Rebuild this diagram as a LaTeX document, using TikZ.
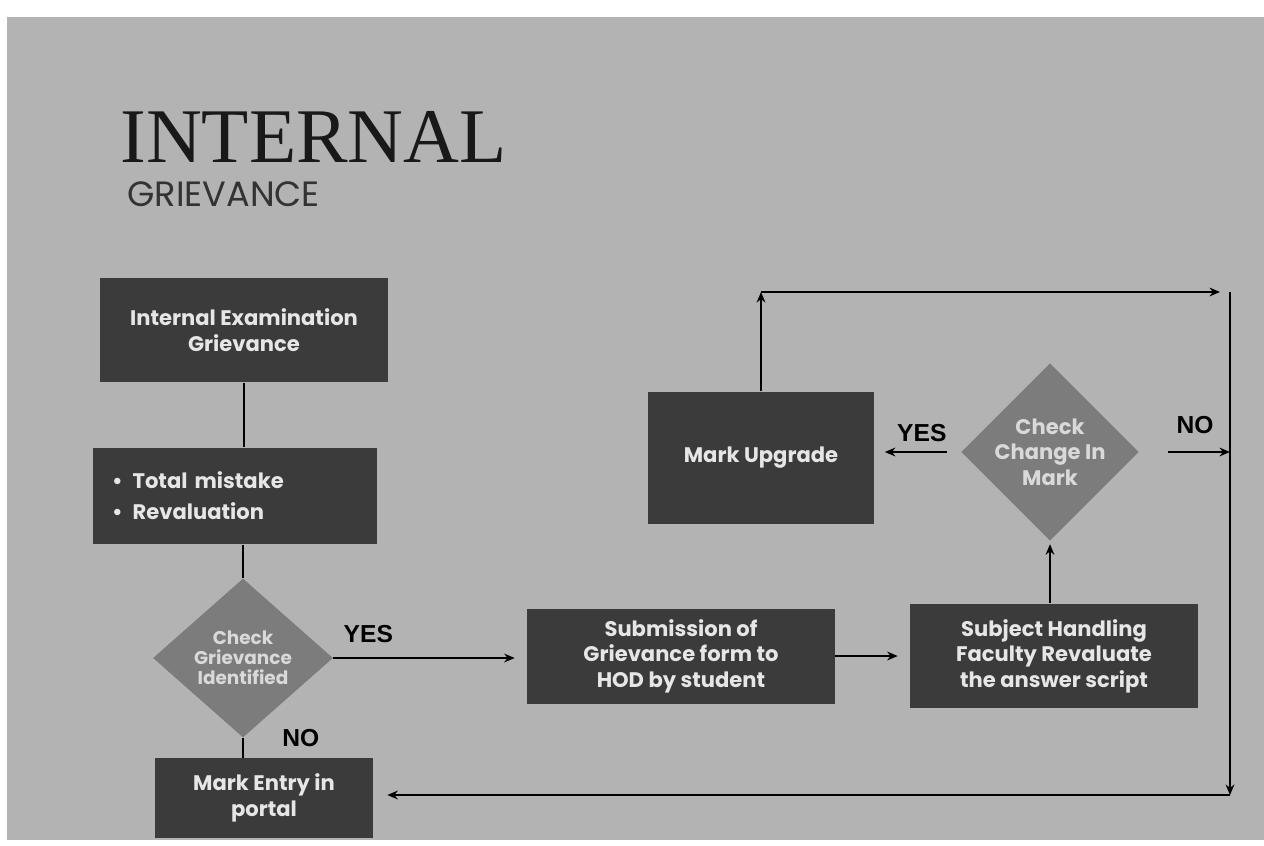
\documentclass[tikz,border=0pt]{standalone}
\usepackage{fontspec}
\usepackage{xcolor}
\usepackage{tikz}
\usetikzlibrary{positioning, arrows.meta, shapes.geometric}
\setmainfont{Liberation Serif}
\newfontfamily\boxfont{Poppins}
\newfontfamily\labelfont{Liberation Sans}
\definecolor{pagegray}{HTML}{B3B3B3}
\definecolor{boxgray}{HTML}{3B3B3B}
\definecolor{diagray}{HTML}{7C7C7C}
\definecolor{boxtext}{HTML}{E6E6E6}
\definecolor{diatext}{HTML}{D9D9D9}

\begin{document}
\begin{tikzpicture}[
    x=0.02cm, y=-0.02cm,
    >=Stealth,
    box/.style={
        rectangle, fill=boxgray, text=boxtext, inner sep=0pt, align=center,
        font=\boxfont\bfseries\fontsize{12}{14.5}\selectfont
    },
    check/.style={
        diamond, fill=diagray, text=diatext, inner sep=0pt, align=center,
        font=\boxfont\bfseries\fontsize{10.5}{11.5}\selectfont
    },
    link/.style={line width=0.9pt},
    arrow/.style={-{Stealth[length=6pt, width=5pt]}, line width=0.9pt},
    yn/.style={inner sep=0pt, font=\labelfont\bfseries\fontsize{14}{16}\selectfont},
]
\useasboundingbox (0,0) rectangle (1264,845);
\fill[pagegray] (7,17) rectangle (1264,840);

% ── Title ────────────────────────────────────────────────────────────────
\node[anchor=base west, inner sep=0pt, text=black!90,
      font=\fontsize{44}{48}\selectfont] (title) at (120,162) {INTERNAL};
\node[anchor=base west, inner sep=0pt, text=black!80,
      font=\boxfont\fontsize{20}{22}\selectfont] (subtitle) at (127,206) {GRIEVANCE};

% ── Left column ──────────────────────────────────────────────────────────
\node[box, minimum width=5.76cm, minimum height=2.1cm] (exam) at (244,330)
    {Internal Examination\\Grievance};
\node[box, minimum width=5.68cm, minimum height=1.94cm, text width=4.92cm,
      inner xsep=0.38cm, align=left, font=\boxfont\bfseries\fontsize{12}{17.5}\selectfont]
    (types) at (235,496) {\textbullet\hspace{0.2cm}Total mistake\\\textbullet\hspace{0.2cm}Revaluation};
\node[check, minimum width=3.6cm, minimum height=3.18cm] (grv) at (243,658)
    {Check\\Grievance\\Identified};
\node[box, minimum width=4.36cm, minimum height=1.6cm] (entry) at (264,798)
    {Mark Entry in\\portal};

% ── Bottom row ───────────────────────────────────────────────────────────
\node[box, minimum width=6.16cm, minimum height=1.9cm] (submit) at (681,656)
    {Submission of\\Grievance form to\\HOD by student};
\node[box, minimum width=5.76cm, minimum height=2.1cm] (reval) at (1054,656)
    {Subject Handling\\Faculty Revaluate\\the answer script};

% ── Upper right ──────────────────────────────────────────────────────────
\node[check, minimum width=3.54cm, minimum height=3.2cm,
      font=\boxfont\bfseries\fontsize{12}{14.5}\selectfont] (chg) at (1050,452)
    {Check\\Change In\\Mark};
\node[box, minimum width=4.54cm, minimum height=2.66cm] (upg) at (761,458)
    {Mark Upgrade};

% ── Loop-back corners ────────────────────────────────────────────────────
\coordinate (upl) at (761,292);
\coordinate (upr) at (1230,292);
\coordinate (dnr) at (1230,795);

% ── Connectors ───────────────────────────────────────────────────────────
\draw[link] (exam.south) -- (exam.south |- types.north);
\draw[link] (grv.north |- types.south) -- (grv.north);
\draw[arrow, shorten >=0.24cm] (grv.east) -- (grv.east -| submit.west);
\draw[link] (grv.south) -- (grv.south |- entry.north);
\draw[arrow, shorten >=0.24cm] (submit.east) -- (reval.west);
\draw[arrow, shorten >=0.06cm] (chg.south |- reval.north) -- (chg.south);
\draw[arrow, shorten <=0.28cm, shorten >=0.2cm] (chg.west) -- (chg.west -| upg.east);
\draw[arrow, shorten <=0.58cm] (chg.east) -- (chg.east -| upr);
\draw[arrow] (upg.north) -- (upl);
\draw[arrow, shorten >=0.2cm] (upl) -- (upr);
\draw[arrow] (upr) -- (dnr);
\draw[arrow, shorten >=0.28cm] (dnr) -- (entry.east |- dnr);

% ── Yes / No labels ──────────────────────────────────────────────────────
\node[yn, above right=0.3cm and 0.2cm of grv.east] (yes1) {YES};
\node[yn, right=0.78cm of grv.south] (no1) {NO};
\node[yn, above left=0.2cm and 0.28cm of chg.west] (yes2) {YES};
\node[yn, above right=0.36cm and 0.74cm of chg.east] (no2) {NO};

\end{tikzpicture}
\end{document}
